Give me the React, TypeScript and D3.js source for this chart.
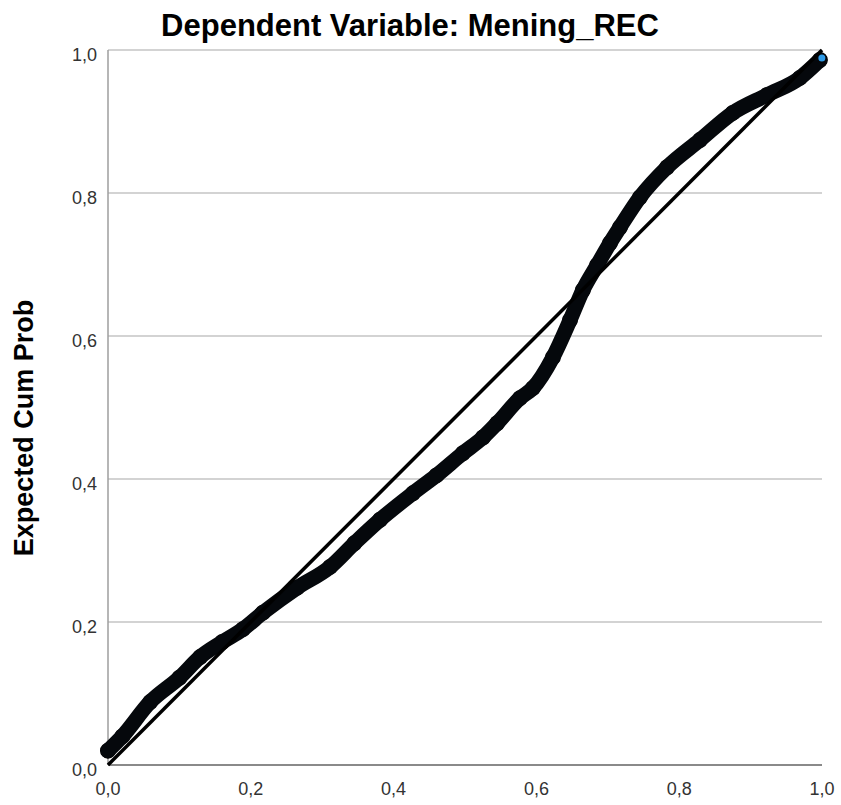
import React from 'react';
import * as d3 from 'd3';

// P-P plot values
const observedCumProb = [0, 0.02, 0.059, 0.1, 0.129, 0.16, 0.189, 0.217, 0.265, 0.311, 0.345, 0.381, 0.427, 0.46, 0.497, 0.525, 0.545, 0.577, 0.595, 0.623, 0.647, 0.665, 0.685, 0.703, 0.717, 0.745, 0.783, 0.829, 0.875, 0.923, 0.969, 0.997];
const expectedCumProb = [0.02, 0.04, 0.088, 0.122, 0.151, 0.172, 0.19, 0.213, 0.248, 0.277, 0.31, 0.343, 0.38, 0.405, 0.436, 0.458, 0.478, 0.513, 0.527, 0.57, 0.622, 0.664, 0.699, 0.73, 0.752, 0.794, 0.836, 0.874, 0.912, 0.937, 0.961, 0.986];
const tickValues = [0, 0.2, 0.4, 0.6, 0.8, 1.0];
const title = 'Dependent Variable: Mening_REC';
const yTitle = 'Expected Cum Prob';

const W = 841;
const H = 805;
const margin = { top: 50, right: 19, bottom: 40, left: 108 };

const fmt = (v: number) => v.toFixed(1).replace('.', ',');

export default function App() {
  const x = d3.scaleLinear().domain([0, 1]).range([margin.left, W - margin.right]);
  const y = d3.scaleLinear().domain([0, 1]).range([H - margin.bottom, margin.top]);

  const pts = observedCumProb.map((o, i) => [o, expectedCumProb[i]] as [number, number]);
  const line = d3.line<[number, number]>()
    .x(d => x(d[0]))
    .y(d => y(d[1]))
    .curve(d3.curveMonotoneX);
  const last = pts[pts.length - 1];

  return (
    <div style={{ position: 'absolute', left: 0, top: 0 }}>
      <svg width={W} height={H} style={{ display: 'block', background: '#fff' }} fontFamily="'Liberation Sans', Arial, sans-serif">
        {/* grid */}
        {tickValues.filter(t => t > 0).map(t => (
          <line key={'g' + t} x1={x(0)} x2={x(1)} y1={y(t)} y2={y(t)} stroke="#c4c4c4" strokeWidth={1.5} />
        ))}
        {/* axes */}
        <line x1={x(0)} x2={x(0)} y1={y(1)} y2={y(0)} stroke="#9e9e9e" strokeWidth={1.5} />
        <line x1={x(0)} x2={x(1)} y1={y(0)} y2={y(0)} stroke="#8a8a8a" strokeWidth={2} />

        {/* y tick labels */}
        {tickValues.map(t => (
          <text key={'y' + t} x={x(0) - 11} y={y(t) + 11} textAnchor="end" fontSize={18} fill="#333">{fmt(t)}</text>
        ))}
        {/* x tick labels */}
        {tickValues.map(t => (
          <text key={'x' + t} x={x(t)} y={H - 10} textAnchor="middle" fontSize={18} fill="#333">{fmt(t)}</text>
        ))}

        {/* observed band */}
        {pts.map((d, i) => (
          <circle key={'c' + i} cx={x(d[0])} cy={y(d[1])} r={7} fill="#2f8fe0" stroke="#000" strokeWidth={2} />
        ))}
        <path d={line(pts) || ''} fill="none" stroke="#05080c" strokeWidth={15} strokeLinecap="round" strokeLinejoin="round" />
        <circle cx={x(last[0]) + 2} cy={y(last[1]) - 2} r={3.5} fill="#2f9be8" />

        {/* reference diagonal */}
        <line x1={x(0)} y1={y(0)} x2={x(1)} y2={y(1)} stroke="#000" strokeWidth={3.5} />

        {/* titles */}
        <text x={410} y={36} textAnchor="middle" fontSize={31} fontWeight="bold" fill="#000">{title}</text>
        <text transform={`translate(33,428) rotate(-90)`} textAnchor="middle" fontSize={27} fontWeight="bold" fill="#000">{yTitle}</text>
      </svg>
    </div>
  );
}
